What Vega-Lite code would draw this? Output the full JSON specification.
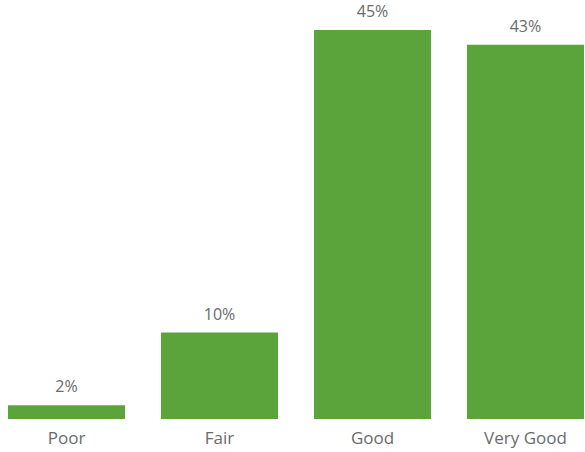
{
  "$schema": "https://vega.github.io/schema/vega-lite/v6.json",
  "autosize": {"type": "none"},
  "width": 576,
  "height": 389,
  "padding": {"left": 8, "top": 30, "right": 1, "bottom": 33},
  "background": "white",
  "config": {"view": {"stroke": null}, "font": "Open Sans"},
  "data": {"values": [
    {"rating": "Poor", "pct": 0.016},
    {"rating": "Fair", "pct": 0.1},
    {"rating": "Good", "pct": 0.45},
    {"rating": "Very Good", "pct": 0.433}
  ]},
  "encoding": {
    "x": {"field": "rating", "type": "nominal", "sort": null,
      "scale": {"paddingInner": 0.235, "paddingOuter": 0},
      "axis": {"title": null, "labelAngle": 0, "domain": false, "ticks": false, "labelPadding": 11, "labelFontSize": 17, "labelColor": "#6b6b6b", "labelFont": "Open Sans"}},
    "y": {"field": "pct", "type": "quantitative", "scale": {"domain": [0, 0.45], "nice": false}, "axis": null}
  },
  "layer": [
    {"mark": {"type": "bar", "color": "#5BA33B"}},
    {"mark": {"type": "text", "baseline": "bottom", "dy": -10, "fontSize": 16, "color": "#6b6b6b", "font": "Open Sans"},
     "encoding": {"text": {"field": "pct", "type": "quantitative", "format": ".0%"}}}
  ]
}
